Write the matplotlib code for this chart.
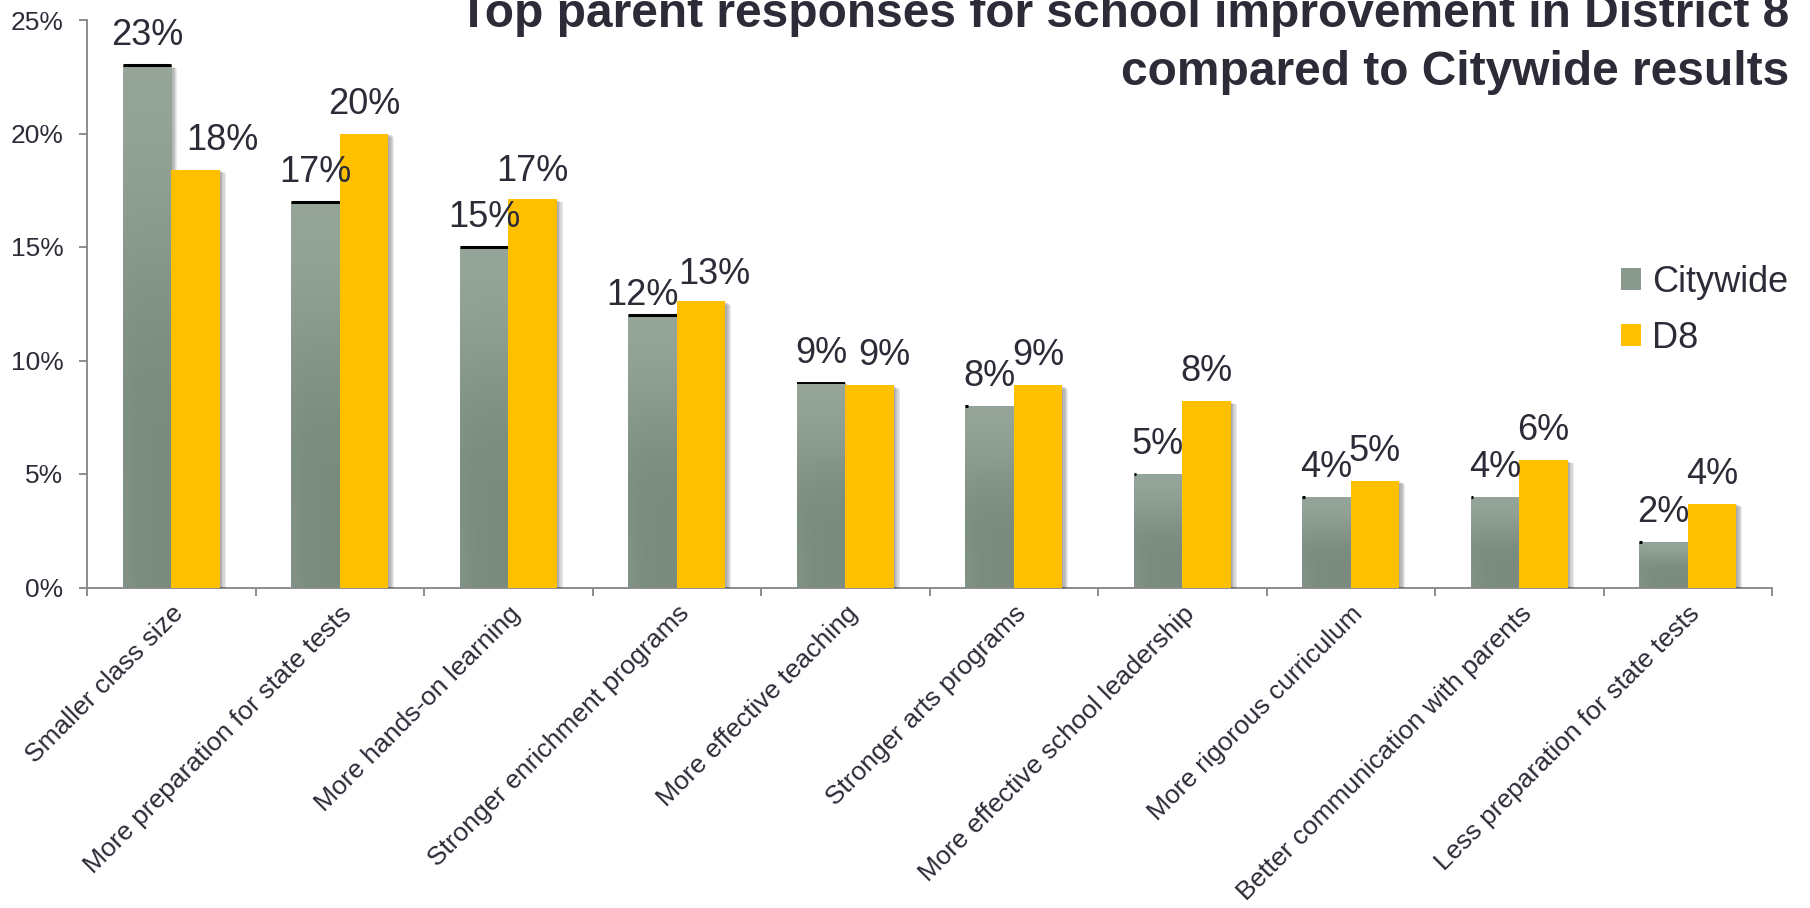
import numpy as np
import matplotlib
matplotlib.use("Agg")
import matplotlib.pyplot as plt
from matplotlib import patheffects as pe
from matplotlib.colors import LinearSegmentedColormap
from matplotlib.patches import Patch
from matplotlib.ticker import FixedLocator, FuncFormatter, NullFormatter

# ---- data -------------------------------------------------------------
categories = [
    "Smaller class size",
    "More preparation for state tests",
    "More hands-on learning",
    "Stronger enrichment programs",
    "More effective teaching",
    "Stronger arts programs",
    "More effective school leadership",
    "More rigorous curriculum",
    "Better communication with parents",
    "Less preparation for state tests",
]
citywide = [23.0, 17.0, 15.0, 12.0, 9.0, 8.0, 5.0, 4.0, 4.0, 2.0]
d8 = [18.4, 20.0, 17.1, 12.6, 8.9, 8.9, 8.2, 4.7, 5.6, 3.7]
series_names = ["Citywide", "D8"]
yticks = [0, 5, 10, 15, 20, 25]
title_lines = [
    "Top parent responses for school improvement in District 8",
    "compared to Citywide results",
]

# ---- style ------------------------------------------------------------
FONT = ["Liberation Sans", "DejaVu Sans"]
plt.rcParams["font.family"] = FONT
TEXT = "#2c2c38"
AXIS = "#8c8c8c"
GOLD = "#ffc000"
GREY_TOP = "#96a599"
GREY_BOT = "#7a8b7f"
BAR_W = 0.288

# per-label nudges in pixels (dx, dy) for the value labels
cw_nudge = [(0, 0), (0, 0), (0, 0), (-10, -10), (0, 0), (0, 0), (0, 0), (0, 0), (0, 0), (0, 0)]
d8_nudge = [(27, 0), (0, 0), (0, -2), (13, -3), (15, 0), (0, 0), (0, 0), (0, 0), (0, 0), (0, 0)]

fig = plt.figure(figsize=(18.10, 9.08), dpi=100)
fig.patch.set_facecolor("white")
ax = fig.add_axes([87 / 1810, 1 - 587.5 / 908, (1772 - 87) / 1810, (587.5 - 20) / 908])

x = np.arange(len(categories))

shadow = [
    pe.SimplePatchShadow(offset=(o, -o * 0.5), shadow_rgbFace="black", alpha=0.08)
    for o in (4.4, 3.5, 2.6, 1.7, 0.8)
] + [pe.Normal()]

cw_bars = ax.bar(x - BAR_W / 2, citywide, BAR_W, color=GREY_BOT, zorder=2,
                 linewidth=0, label=series_names[0])
d8_bars = ax.bar(x + BAR_W / 2, d8, BAR_W, color=GOLD, zorder=3,
                 linewidth=0, label=series_names[1])
for b in list(cw_bars) + list(d8_bars):
    b.set_path_effects(shadow)

# vertical shading on the Citywide bars
cmap = LinearSegmentedColormap.from_list("cw", [GREY_TOP, GREY_BOT])
t = np.linspace(0, 1, 128)[:, None]
s = np.linspace(0, 1, 32)[None, :]
shade = np.clip(t / 0.7, 0, 1)
shade = shade * shade * (3 - 2 * shade)
shade = shade * (1 - 0.25 * np.exp(-((s / 0.25) ** 2)) * t)
for b in cw_bars:
    x0, w, h = b.get_x(), b.get_width(), b.get_height()
    im = ax.imshow(shade, extent=[x0, x0 + w, 0, h], origin="upper", cmap=cmap,
                   vmin=0, vmax=1, aspect="auto", interpolation="bicubic", zorder=2.5)
    im.set_clip_path(b)

# dark rim along the top of the Citywide bars
for i, b in enumerate(cw_bars):
    x0, w, h = b.get_x(), b.get_width(), b.get_height()
    if i < 5:
        ax.plot([x0, x0 + w], [h, h], color="black", lw=2.2 if i < 4 else 1.4,
                solid_capstyle="butt", zorder=2.8)
    else:
        ax.plot([x0, x0 + w * 0.05], [h, h], color="black", lw=2.2,
                solid_capstyle="butt", zorder=2.8)

# value labels
for bars, vals, nudge in ((cw_bars, citywide, cw_nudge), (d8_bars, d8, d8_nudge)):
    for b, v, (dx, dy) in zip(bars, vals, nudge):
        ax.annotate(f"{v:.0f}%", xy=(b.get_x() + b.get_width() / 2, v),
                    xytext=(dx, 20 + dy), textcoords="offset pixels",
                    ha="center", va="baseline", fontsize=26, color=TEXT, zorder=5)

# axes
ax.set_xlim(-0.5, len(categories) - 0.5)
ax.set_ylim(0, 25)
for side in ("top", "right"):
    ax.spines[side].set_visible(False)
for side in ("left", "bottom"):
    ax.spines[side].set_color(AXIS)
    ax.spines[side].set_linewidth(1.4)

ax.yaxis.set_major_locator(FixedLocator(yticks))
ax.yaxis.set_major_formatter(FuncFormatter(lambda v, p: f"{v:.0f}%"))
ax.tick_params(axis="y", direction="out", length=6, width=1.4, color=AXIS,
               labelsize=19, labelcolor=TEXT, pad=11)

ax.set_xticks(x)
ax.set_xticklabels(categories, rotation=45, ha="right", va="top",
                   rotation_mode="anchor", fontsize=19, color=TEXT)
ax.tick_params(axis="x", which="major", length=0, pad=10)
ax.xaxis.set_minor_locator(FixedLocator(np.arange(-0.5, len(categories), 1.0)))
ax.xaxis.set_minor_formatter(NullFormatter())
ax.tick_params(axis="x", which="minor", direction="out", length=6, width=1.4, color=AXIS)

# legend
handles = [Patch(facecolor="#89998d", edgecolor="none"), Patch(facecolor=GOLD, edgecolor="none")]
leg = fig.legend(handles, series_names, loc="upper left",
                 bbox_to_anchor=(1621 / 1810, 1 - 265 / 908), frameon=False,
                 fontsize=26, handlelength=0.55, handleheight=0.55,
                 handletextpad=0.3, labelspacing=0.57, borderpad=0, borderaxespad=0)
for txt in leg.get_texts():
    txt.set_color(TEXT)

# title, right aligned and running off the top edge
fig.text(1789 / 1810, 1 - 27 / 908, title_lines[0], ha="right", va="baseline",
         fontsize=34.5, fontweight="bold", color=TEXT)
fig.text(1789 / 1810, 1 - 85 / 908, title_lines[1], ha="right", va="baseline",
         fontsize=34.5, fontweight="bold", color=TEXT)

fig.savefig("out.png", dpi=100, facecolor="white")
